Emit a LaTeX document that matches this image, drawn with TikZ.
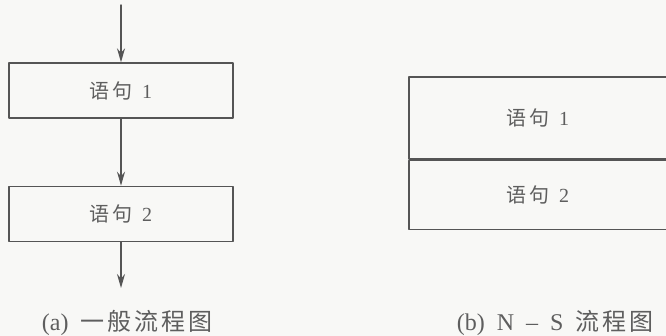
\documentclass[tikz,border=0pt]{standalone}
\usepackage{fontspec}
\setmainfont{Liberation Serif}
\newfontfamily\cjk[LetterSpace=12]{Noto Sans CJK SC}
\usetikzlibrary{arrows.meta,positioning}
\definecolor{inkgray}{HTML}{555555}
\definecolor{textgray}{HTML}{5E5E5E}
\definecolor{paper}{HTML}{F8F8F6}

\begin{document}
\begin{tikzpicture}[
			x=1pt, y=-1pt,
			every node/.style={font=\fontsize{20}{24}\selectfont, text=textgray},
			line cap=round,
			line join=round,
			stmt/.style={draw=inkgray, line width=1.4pt, minimum width=224pt, minimum height=55pt, inner sep=0pt},
			nsbox/.style={draw=inkgray, line width=1.4pt, minimum width=258pt, inner sep=0pt},
			caption/.style={font=\fontsize{24}{28}\selectfont},
			flow/.style={draw=inkgray, line width=1.4pt, -{Stealth[length=14pt,width=8pt]}}
			]
			\fill[paper] (0,0) rectangle (666,336);
			\useasboundingbox (0,0) rectangle (666,336);
			
			% (a) ordinary flowchart
			\coordinate (in) at (121,5);
			\node[stmt] (s1) at (121,90.5) {{\cjk 语句}\enspace 1};
			\node[stmt, below=67pt of s1] (s2) {{\cjk 语句}\enspace 2};
			\coordinate (out) at (121,288);
			\draw[flow] (in) -- (s1.north);
			\draw[flow] (s1.south) -- (s2.north);
			\draw[flow] (s2.south) -- (out);
			
			% (b) N-S flowchart
			\node[nsbox, minimum height=82pt] (ns1) at (538,118) {{\cjk 语句}\enspace 1};
			\node[nsbox, minimum height=69pt, below=0pt of ns1] (ns2) {{\cjk 语句}\enspace 2};
			
			% Captions
			\node[caption] (capa) at (127,323) {(a)\enspace{\cjk 一般流程图}};
			\node[caption] (capb) at (555,323) {(b)\enspace N\enspace--\enspace S\enspace{\cjk 流程图}};
		\end{tikzpicture}
\end{document}
